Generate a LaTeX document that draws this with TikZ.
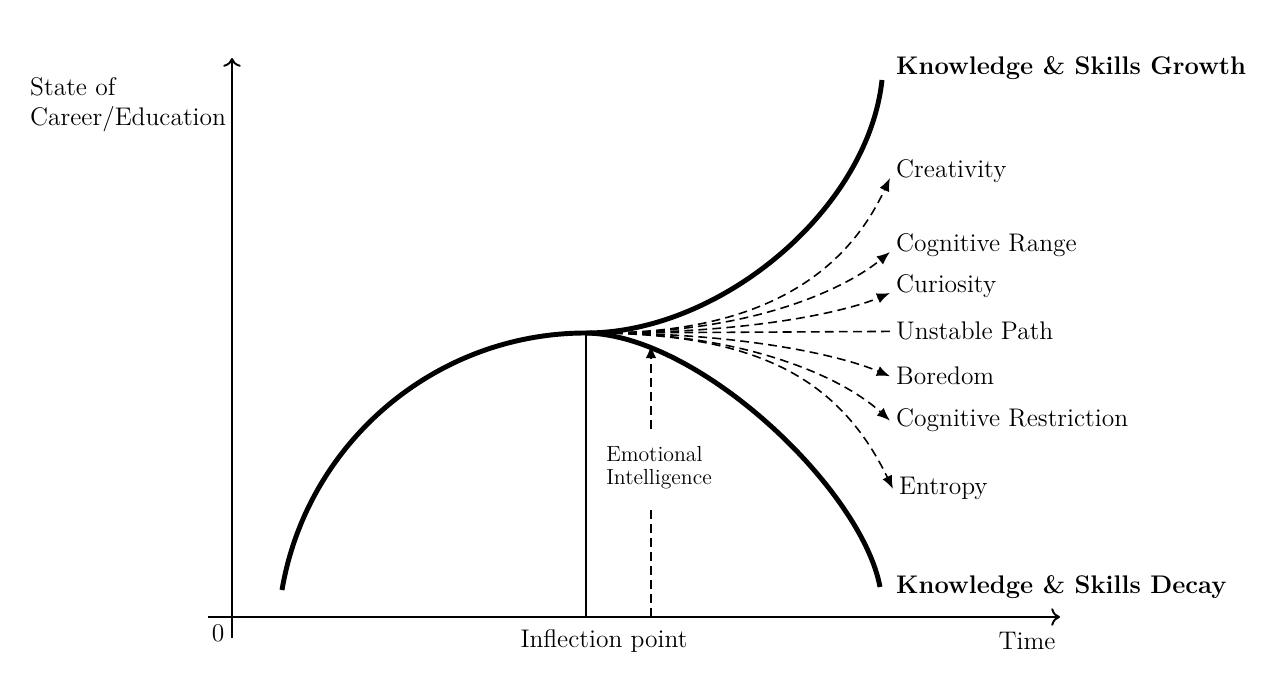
\documentclass[tikz,border=0pt]{standalone}
\usepackage{tikz}
\usetikzlibrary{arrows.meta}

\begin{document}
\begin{tikzpicture}[x=0.02cm,y=-0.02cm,
    every node/.style={font=\fontsize{14.5}{17}\selectfont},
    axisline/.style={line width=1.1pt,-{To[length=5pt,width=10pt]}},
    bigcurve/.style={line width=2.8pt},
    dashline/.style={line width=0.9pt,dash pattern=on 5pt off 3pt},
    fanarrow/.style={dashline,-{Latex[length=7.5pt,width=6pt]}},
    lbl/.style={anchor=base west},
    boldlbl/.style={lbl,font=\fontsize{14.5}{17}\selectfont\bfseries}]
  \useasboundingbox (0,0) rectangle (1274,678);
  % axes
  \coordinate (ybot) at (232,638);
  \coordinate (ytop) at (232,58);
  \coordinate (xleft) at (208,617);
  \coordinate (xright) at (1060,617);
  \draw[axisline] (ybot) -- (ytop);
  \draw[axisline] (xleft) -- (xright);
  \node (zero) at (218,633) {0};
  \node (time) at (1027,641) {Time};
  \node (ylabel) [anchor=north west,align=left] at (24,71) {State of\\Career/Education};
  % main curves
  \coordinate (start) at (282,590);
  \coordinate (top) at (586,333);
  \coordinate (grow) at (882,80);
  \coordinate (decay) at (880,587);
  \draw[bigcurve] (start) .. controls (307,442) and (436,333) .. (top);
  \draw[bigcurve] (top) .. controls (720,333) and (868,210) .. (grow);
  \draw[bigcurve] (top) .. controls (700,335) and (862,490) .. (decay);
  \node[boldlbl] (growlbl) at (890,75) {Knowledge \& Skills Growth};
  \node[boldlbl] (decaylbl) at (890,593) {Knowledge \& Skills Decay};
  % inflection point
  \coordinate (infl) at (586,617);
  \draw[line width=0.8pt] (top) -- (infl);
  \node (infllbl) at (604,641) {Inflection point};
  % emotional intelligence
  \node (ei) [align=left,inner ysep=10pt,font=\fontsize{12.4}{13}\selectfont] at (659,468) {Emotional\\Intelligence};
  \coordinate (eibot) at (651,617);
  \coordinate (eitip) at (651,345);
  \draw[dashline] (eibot) -- (eibot |- ei.south);
  \draw[fanarrow] (eibot |- ei.north) -- (eitip);
  % fan of paths
  \node[lbl] (creat) at (890,178) {Creativity};
  \node[lbl] (range) at (890,252) {Cognitive Range};
  \node[lbl] (curio) at (890,293) {Curiosity};
  \node[lbl] (unstable) at (890,340) {Unstable Path};
  \node[lbl] (bored) at (890,385) {Boredom};
  \node[lbl] (restrict) at (890,427) {Cognitive Restriction};
  \node[lbl] (entropy) at (893,495) {Entropy};
  \coordinate (fan) at (600,333);
  \draw[fanarrow] (fan) .. controls (760,333) and (845,275) .. (creat.base west);
  \draw[fanarrow] (fan) .. controls (760,333) and (850,285) .. (range.base west);
  \draw[fanarrow] (fan) .. controls (760,333) and (850,310) .. (curio.base west);
  \draw[dashline] (fan) -- (unstable.west);
  \draw[fanarrow] (fan) .. controls (740,333) and (840,355) .. (bored.west);
  \draw[fanarrow] (fan) .. controls (740,333) and (840,375) .. (restrict.west);
  \draw[fanarrow] (fan) .. controls (760,335) and (840,380) .. (entropy.west);
\end{tikzpicture}
\end{document}
